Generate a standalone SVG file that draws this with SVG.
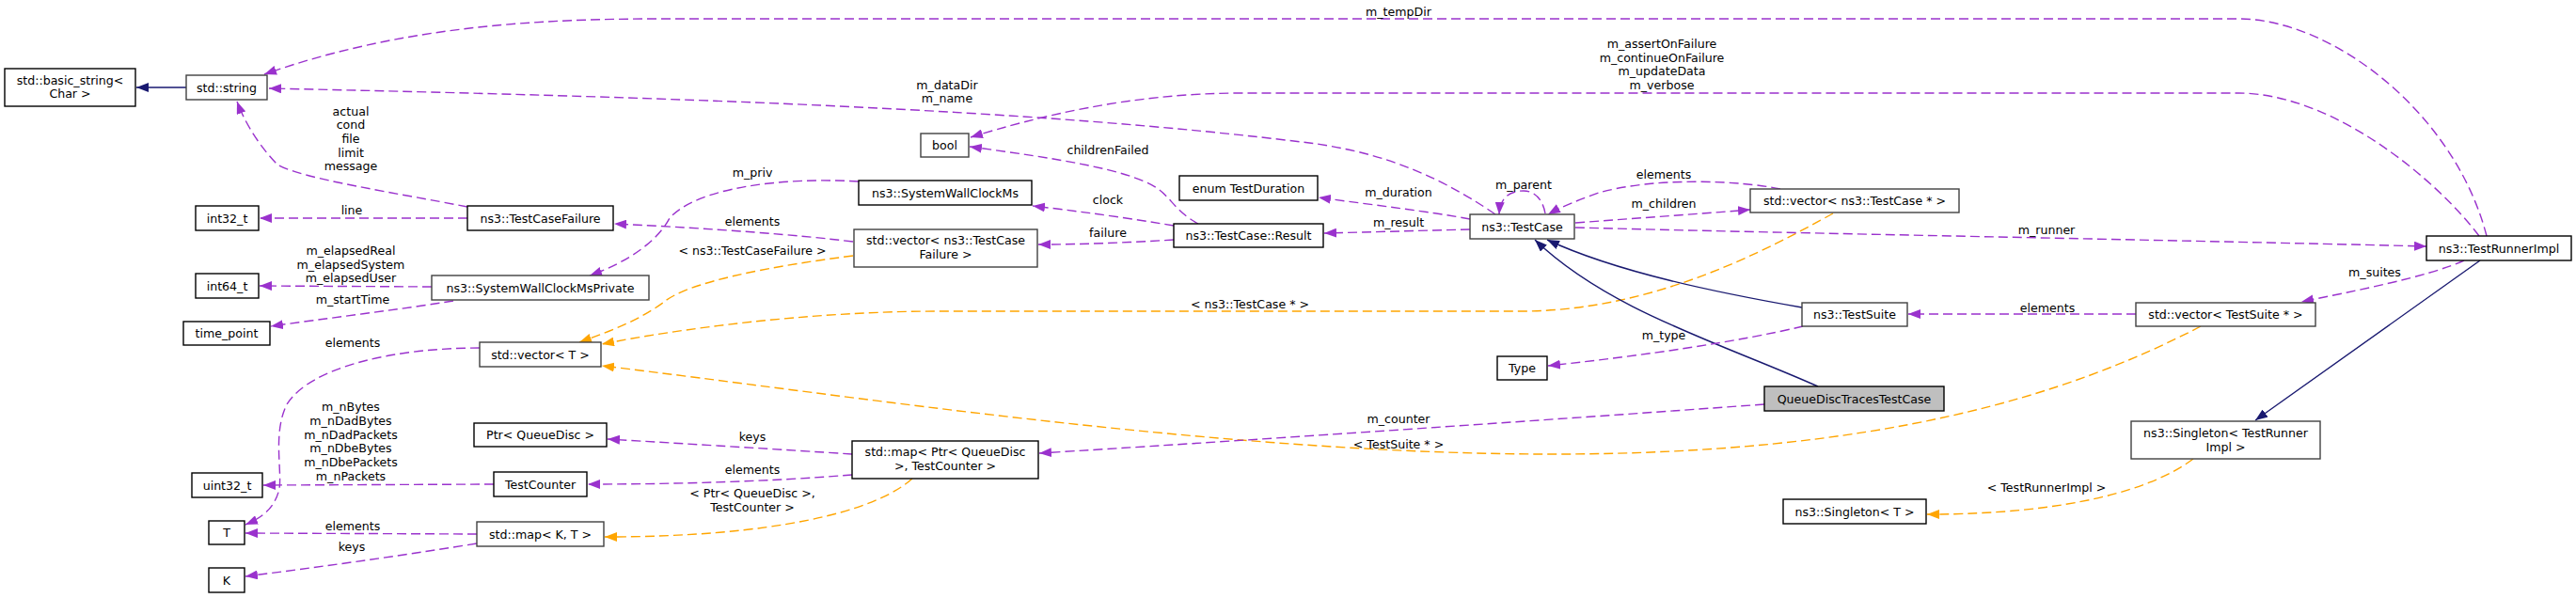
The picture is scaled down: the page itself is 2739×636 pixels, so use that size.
<svg xmlns="http://www.w3.org/2000/svg" width="2739" height="636" viewBox="0 0 2739 636">
<style>
text{font-family:"DejaVu Sans","Liberation Sans",sans-serif;font-size:12.6px;fill:#000;text-anchor:middle}
.n rect{fill:#fff;stroke:#000;stroke-width:1.4}
.g rect{stroke:#404040}
.f rect{fill:#bfbfbf}
.p{fill:none;stroke:#9a32cd;stroke-width:1.4;stroke-dasharray:10,5;marker-end:url(#ap)}
.o{fill:none;stroke:#ffa500;stroke-width:1.4;stroke-dasharray:10,5;marker-end:url(#ao)}
.s{fill:none;stroke:#191970;stroke-width:1.4;marker-end:url(#as)}
</style>
<defs>
<marker id="ap" viewBox="0 0 13 10" refX="13" refY="5" markerWidth="13" markerHeight="10" markerUnits="userSpaceOnUse" orient="auto"><path d="M0,0L13,5L0,10z" fill="#9a32cd"/></marker>
<marker id="ao" viewBox="0 0 13 10" refX="13" refY="5" markerWidth="13" markerHeight="10" markerUnits="userSpaceOnUse" orient="auto"><path d="M0,0L13,5L0,10z" fill="#ffa500"/></marker>
<marker id="as" viewBox="0 0 13 10" refX="13" refY="5" markerWidth="13" markerHeight="10" markerUnits="userSpaceOnUse" orient="auto"><path d="M0,0L13,5L0,10z" fill="#191970"/></marker>
</defs>
<rect width="2739" height="636" fill="#fff"/>
<g id="edges">
<path class="s" d="M198,93L145,93"/>
<path class="p" d="M2644,251C2610,120 2480,20 2380,20L700,20C560,20 420,30 281,79"/>
<text x="1487" y="16.5">m_tempDir</text>
<path class="p" d="M2636,251C2590,190 2480,99 2380,99L1320,99C1200,99 1100,125 1032,146"/>
<text x="1767" y="51">m_assertOnFailure</text>
<text x="1767" y="65.5">m_continueOnFailure</text>
<text x="1767" y="80">m_updateData</text>
<text x="1767" y="94.5">m_verbose</text>
<path class="p" d="M1590,228C1520,180 1460,162 1400,153C1100,115 700,103 286,94"/>
<text x="1007" y="95">m_dataDir</text>
<text x="1007" y="109">m_name</text>
<path class="p" d="M497,220C420,205 320,190 295,175C280,160 262,135 252,108"/>
<text x="373" y="122.8">actual</text>
<text x="373" y="137.4">cond</text>
<text x="373" y="152">file</text>
<text x="373" y="166.6">limit</text>
<text x="373" y="181.2">message</text>
<path class="p" d="M497,232L276,232"/>
<text x="374" y="227.5">line</text>
<path class="p" d="M459,305L276,304"/>
<text x="373" y="271">m_elapsedReal</text>
<text x="373" y="285.5">m_elapsedSystem</text>
<text x="373" y="300">m_elapsedUser</text>
<path class="p" d="M482,320C420,330 350,338 288,347"/>
<text x="375" y="322.5">m_startTime</text>
<path class="p" d="M913,193C830,188 740,200 712,232C700,255 670,278 627,293"/>
<text x="800" y="187.5">m_priv</text>
<path class="p" d="M907,257C850,250 760,243 653,238"/>
<text x="800" y="239.5">elements</text>
<path class="o" d="M907,272C820,283 730,300 705,322C680,340 650,352 616,364"/>
<text x="800" y="270.5">&lt; ns3::TestCaseFailure &gt;</text>
<path class="p" d="M1274,238C1250,225 1245,210 1230,200C1200,180 1120,168 1031,156"/>
<text x="1178" y="164">childrenFailed</text>
<path class="p" d="M1248,240C1200,232 1150,225 1098,219"/>
<text x="1178" y="216.5">clock</text>
<path class="p" d="M1248,255C1200,258 1150,260 1104,260"/>
<text x="1178" y="251.5">failure</text>
<path class="p" d="M1563,233C1520,225 1460,218 1402,210"/>
<text x="1487" y="208.5">m_duration</text>
<path class="p" d="M1563,244L1408,248"/>
<text x="1487" y="240.5">m_result</text>
<path class="p" d="M1643,227C1640,210 1630,203 1620,203C1605,203 1595,210 1594,228"/>
<text x="1620" y="200.5">m_parent</text>
<path class="p" d="M1675,237C1740,232 1800,228 1861,223"/>
<text x="1769" y="220.5">m_children</text>
<path class="p" d="M1893,201C1850,192 1760,188 1700,205C1680,212 1660,220 1646,228"/>
<text x="1769" y="189.5">elements</text>
<path class="o" d="M1949,227C1880,265 1760,330 1620,331L1000,331C860,331 720,350 640,366"/>
<text x="1329" y="327.5">&lt; ns3::TestCase * &gt;</text>
<path class="p" d="M1675,242C1900,248 2300,255 2580,262"/>
<text x="2176" y="248.5">m_runner</text>
<path class="s" d="M1916,327C1830,312 1720,290 1645,255"/>
<path class="s" d="M1933,411C1830,365 1710,330 1632,255"/>
<path class="p" d="M1917,347C1850,363 1750,378 1646,389"/>
<text x="1769" y="360.5">m_type</text>
<path class="p" d="M2271,334L2029,334"/>
<text x="2177" y="331.5">elements</text>
<path class="p" d="M2620,277C2580,295 2500,310 2447,321"/>
<text x="2525" y="293.5">m_suites</text>
<path class="s" d="M2637,277L2398,447"/>
<path class="o" d="M2340,347C2200,420 2000,483 1650,483C1300,483 900,420 640,389"/>
<text x="1487" y="476.5">&lt; TestSuite * &gt;</text>
<path class="o" d="M2332,488C2290,520 2200,547 2049,547"/>
<text x="2176" y="522.5">&lt; TestRunnerImpl &gt;</text>
<path class="p" d="M1876,430C1600,450 1300,470 1105,482"/>
<text x="1487" y="449.5">m_counter</text>
<path class="p" d="M906,483C830,478 730,472 646,467"/>
<text x="800" y="468.5">keys</text>
<path class="p" d="M906,505C820,512 720,515 625,515"/>
<text x="800" y="503.5">elements</text>
<path class="o" d="M970,509C930,545 820,571 643,571"/>
<text x="800" y="528.5">&lt; Ptr&lt; QueueDisc &gt;,</text>
<text x="800" y="543.5">TestCounter &gt;</text>
<path class="p" d="M525,515L280,516"/>
<text x="373" y="437.2">m_nBytes</text>
<text x="373" y="451.8">m_nDadBytes</text>
<text x="373" y="466.8">m_nDadPackets</text>
<text x="373" y="481.2">m_nDbeBytes</text>
<text x="373" y="496.2">m_nDbePackets</text>
<text x="373" y="511.2">m_nPackets</text>
<path class="p" d="M510,370C420,370 330,390 305,430C290,460 300,500 297,520C292,540 280,550 261,558"/>
<text x="375" y="368.5">elements</text>
<path class="p" d="M507,568L261,567"/>
<text x="375" y="563.5">elements</text>
<path class="p" d="M507,578C420,592 340,603 261,613"/>
<text x="374" y="585.5">keys</text>
</g>
<g id="basic_string" class="n"><rect x="5" y="73" width="139" height="40"/><text x="74.5" y="89.5">std::basic_string&lt;</text><text x="74.5" y="104">Char &gt;</text></g>
<g id="std_string" class="n g"><rect x="198" y="80" width="86" height="26"/><text x="241" y="97.5">std::string</text></g>
<g id="int32_t" class="n"><rect x="208" y="219" width="67" height="26"/><text x="241.5" y="236.5">int32_t</text></g>
<g id="TestCaseFailure" class="n"><rect x="497" y="219" width="155" height="26"/><text x="574.5" y="236.5">ns3::TestCaseFailure</text></g>
<g id="int64_t" class="n"><rect x="208" y="291" width="67" height="26"/><text x="241.5" y="308.5">int64_t</text></g>
<g id="SystemWallClockMsPrivate" class="n g"><rect x="459" y="293" width="231" height="26"/><text x="574.5" y="310.5">ns3::SystemWallClockMsPrivate</text></g>
<g id="time_point" class="n"><rect x="195" y="342" width="92" height="25"/><text x="241" y="359">time_point</text></g>
<g id="vector_T" class="n g"><rect x="510" y="364" width="129" height="26"/><text x="574.5" y="381.5">std::vector&lt; T &gt;</text></g>
<g id="Ptr_QueueDisc" class="n"><rect x="504" y="450" width="141" height="25"/><text x="574.5" y="467">Ptr&lt; QueueDisc &gt;</text></g>
<g id="uint32_t" class="n"><rect x="204" y="503" width="75" height="26"/><text x="241.5" y="520.5">uint32_t</text></g>
<g id="TestCounter" class="n"><rect x="525" y="502" width="99" height="26"/><text x="574.5" y="519.5">TestCounter</text></g>
<g id="T" class="n"><rect x="222" y="554" width="38" height="25"/><text x="241" y="571">T</text></g>
<g id="map_K_T" class="n g"><rect x="507" y="555" width="135" height="26"/><text x="574.5" y="572.5">std::map&lt; K, T &gt;</text></g>
<g id="K" class="n"><rect x="222" y="604" width="38" height="26"/><text x="241" y="621.5">K</text></g>
<g id="bool" class="n g"><rect x="979" y="142" width="51" height="25"/><text x="1004.5" y="159">bool</text></g>
<g id="SystemWallClockMs" class="n"><rect x="913" y="192" width="184" height="26"/><text x="1005" y="209.5">ns3::SystemWallClockMs</text></g>
<g id="vector_TestCaseFailure" class="n g"><rect x="908" y="244" width="195" height="40"/><text x="1005.5" y="260">std::vector&lt; ns3::TestCase</text><text x="1005.5" y="275">Failure &gt;</text></g>
<g id="TestDuration" class="n"><rect x="1254" y="187" width="147" height="26"/><text x="1327.5" y="204.5">enum TestDuration</text></g>
<g id="TestCase_Result" class="n"><rect x="1248" y="238" width="159" height="25"/><text x="1327.5" y="255">ns3::TestCase::Result</text></g>
<g id="TestCase" class="n g"><rect x="1563" y="228" width="111" height="26"/><text x="1618.5" y="245.5">ns3::TestCase</text></g>
<g id="vector_TestCase" class="n g"><rect x="1861" y="201" width="222" height="25"/><text x="1972" y="218">std::vector&lt; ns3::TestCase * &gt;</text></g>
<g id="TestSuite" class="n g"><rect x="1916" y="322" width="112" height="25"/><text x="1972" y="339">ns3::TestSuite</text></g>
<g id="Type" class="n"><rect x="1592" y="379" width="53" height="25"/><text x="1618.5" y="396">Type</text></g>
<g id="QueueDiscTracesTestCase" class="n f"><rect x="1876" y="411" width="191" height="26"/><text x="1971.5" y="428.5">QueueDiscTracesTestCase</text></g>
<g id="Singleton_T" class="n"><rect x="1896" y="531" width="152" height="26"/><text x="1972" y="548.5">ns3::Singleton&lt; T &gt;</text></g>
<g id="TestRunnerImpl" class="n"><rect x="2580" y="251" width="154" height="26"/><text x="2657" y="268.5">ns3::TestRunnerImpl</text></g>
<g id="vector_TestSuite" class="n g"><rect x="2271" y="322" width="191" height="25"/><text x="2366.5" y="339">std::vector&lt; TestSuite * &gt;</text></g>
<g id="Singleton_TestRunnerImpl" class="n g"><rect x="2266" y="448" width="201" height="40"/><text x="2366.5" y="465">ns3::Singleton&lt; TestRunner</text><text x="2366.5" y="479.5">Impl &gt;</text></g>
<g id="map_Ptr_TestCounter" class="n"><rect x="906" y="469" width="198" height="40"/><text x="1005" y="485">std::map&lt; Ptr&lt; QueueDisc</text><text x="1005" y="500">&gt;, TestCounter &gt;</text></g>
</svg>
